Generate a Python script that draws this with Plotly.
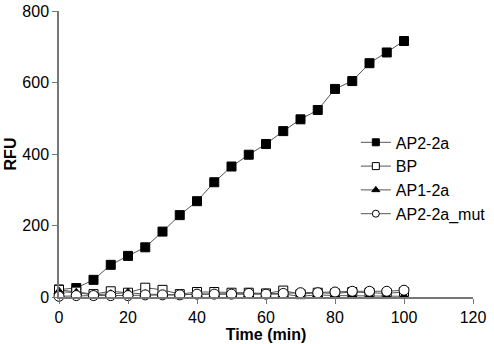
import plotly.graph_objects as go

time_min = [0, 5, 10, 15, 20, 25, 30, 35, 40, 45, 50, 55, 60, 65, 70, 75, 80, 85, 90, 95, 100]
ap2_2a = [21, 25, 48, 90, 115, 139, 183, 229, 268, 321, 365, 398, 428, 464, 497, 523, 582, 604, 654, 684, 716]
bp = [20, 15, 8, 16, 12, 26, 20, 8, 14, 14, 12, 12, 10, 18, 8, 12, 10, 14, 12, 10, 14]
ap1_2a = [15, 12, 6, 8, 12, 8, 6, 6, 8, 8, 6, 6, 6, 8, 2, 6, 4, 4, 2, 2, 2]
ap2_2a_mut = [2, 4, 4, 4, 4, 6, 6, 6, 8, 8, 8, 10, 8, 10, 12, 12, 14, 16, 16, 16, 19]

x_ticks = [0, 20, 40, 60, 80, 100, 120]
y_ticks = [0, 200, 400, 600, 800]

line_col = "#555555"
series = [
    ("AP2-2a", ap2_2a, "square", 9, "black"),
    ("BP", bp, "square", 9, "white"),
    ("AP1-2a", ap1_2a, "triangle-up", 9, "black"),
    ("AP2-2a_mut", ap2_2a_mut, "circle", 10, "white"),
]

fig = go.Figure()
for name, vals, sym, sz, fill in series:
    fig.add_trace(go.Scatter(
        x=time_min, y=vals, name=name, mode="lines+markers", showlegend=False,
        line=dict(color=line_col, width=1),
        marker=dict(symbol=sym, size=sz, color=fill, line=dict(color="black", width=1)),
        cliponaxis=False,
    ))
# legend entries with smaller markers, as in the reference
for name, vals, sym, sz, fill in series:
    fig.add_trace(go.Scatter(
        x=[None], y=[None], name=name, mode="lines+markers", showlegend=True,
        line=dict(color=line_col, width=1),
        marker=dict(symbol=sym, size=7, color=fill, line=dict(color="black", width=1)),
    ))

font_fam = "Liberation Sans, Arial, sans-serif"
fig.update_layout(
    width=494, height=344,
    margin=dict(l=59, r=21, t=11, b=47, autoexpand=False),
    paper_bgcolor="white", plot_bgcolor="white",
    font=dict(family=font_fam, size=16, color="black"),
    showlegend=True,
    legend=dict(x=0.717, y=0.60, xanchor="left", yanchor="top",
                bgcolor="rgba(0,0,0,0)", font=dict(size=16), itemwidth=30,
                tracegroupgap=0),
    xaxis=dict(range=[0, 120], tickvals=x_ticks, ticks="outside", ticklen=5,
               tickcolor="#777777", showline=True, linecolor="#777777", linewidth=1.5,
               showgrid=False, zeroline=False, automargin=False,
               title=dict(text="<b>Time (min)</b>", font=dict(size=16), standoff=0)),
    yaxis=dict(range=[0, 800], tickvals=y_ticks, ticks="outside", ticklen=5,
               tickcolor="#777777", showline=True, linecolor="#777777", linewidth=1.5,
               showgrid=False, zeroline=False, automargin=False,
               title=dict(text="<b>RFU</b>", font=dict(size=16), standoff=2)),
)

fig.write_html("out.html", config={"displayModeBar": False},
               post_script="document.body.style.margin='0';")
